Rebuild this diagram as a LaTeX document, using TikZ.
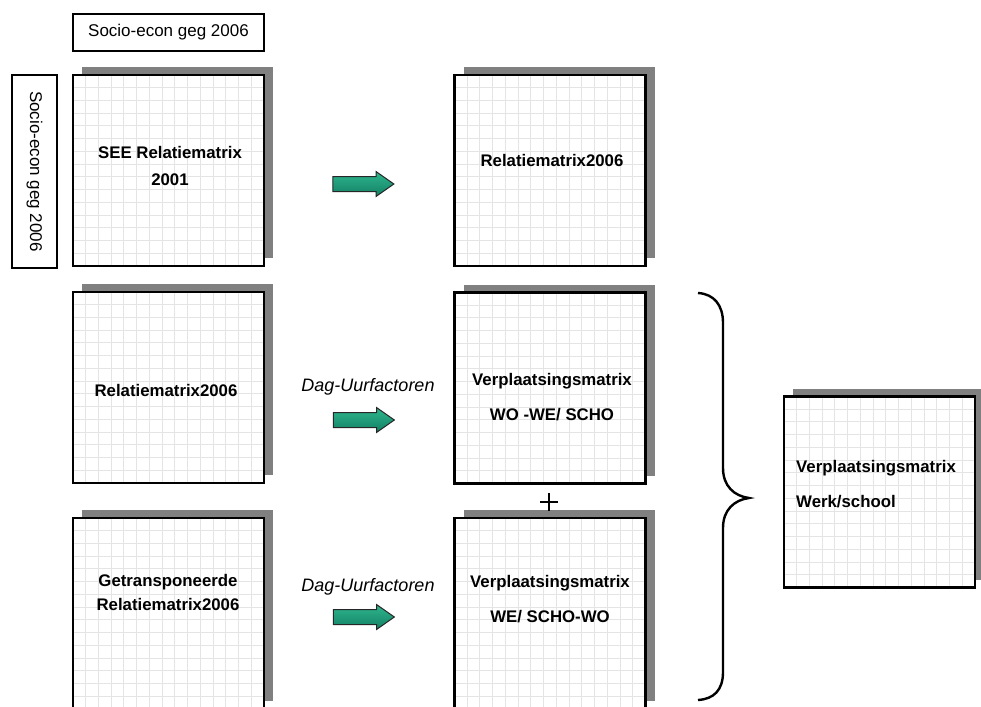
\documentclass[tikz,border=0pt]{standalone}
\usepackage{fontspec}
\setmainfont{Liberation Sans}
\usetikzlibrary{calc,shapes.arrows,shadows}
\definecolor{shadowgray}{HTML}{808080}
\definecolor{gridgray}{HTML}{E4E4E4}
\definecolor{arrowtop}{HTML}{2FB68E}
\definecolor{arrowbot}{HTML}{128064}

\tikzset{
  gridline/.style={draw=gridgray, line width=1pt},
  matbox/.style={draw=black, line width=2.8pt, fill=white,
    minimum width=191pt, minimum height=191pt, inner sep=0pt, outer sep=0pt,
    general shadow={fill=shadowgray, shadow xshift=9pt, shadow yshift=8pt},
    path picture={
      \foreach \k in {1,...,14}{
        \draw[gridline]
          ($(path picture bounding box.north west)!\k/15!(path picture bounding box.north east)$) --
          ($(path picture bounding box.south west)!\k/15!(path picture bounding box.south east)$);
        \draw[gridline]
          ($(path picture bounding box.north west)!\k/15!(path picture bounding box.south west)$) --
          ($(path picture bounding box.north east)!\k/15!(path picture bounding box.south east)$);
      }
    }},
  labelbox/.style={draw=black, line width=2pt, fill=white, inner sep=0pt,
    font=\fontsize{17}{18}\selectfont},
  mtext/.style={align=center, inner sep=0pt},
  factortext/.style={inner sep=0pt, font=\fontsize{18}{20}\selectfont\itshape},
  blockarrow/.style={single arrow, draw=black!85, line width=1pt,
    top color=arrowtop, bottom color=arrowbot,
    minimum height=61pt, inner xsep=0pt, inner ysep=7pt,
    single arrow head extend=5pt, single arrow tip angle=70},
  bracket/.style={draw=black, line width=2.4pt}
}

\begin{document}
\begin{tikzpicture}[x=1pt, y=-1pt]
\useasboundingbox (0,0) rectangle (981,706);
\clip (0,0) rectangle (981,706);

% data labels
\node[labelbox, minimum width=191pt, minimum height=37pt] (toplabel) at (168.5,32.5) {Socio-econ geg 2006};
\node[labelbox, rotate=-90, minimum width=193pt, minimum height=45pt] (sidelabel) at (34.5,171.5) {Socio-econ geg 2006};

% matrices
\node[matbox] (A) at (168.5,170.5) {};
\node[matbox] (B) at (550,170.5) {};
\node[matbox] (C) at (168.5,387.5) {};
\node[matbox] (D) at (550,388) {};
\node[matbox] (E) at (168.5,613.5) {};
\node[matbox] (F) at (550,613.5) {};
\node[matbox] (G) at (879.5,492) {};

% matrix captions
\node[mtext, font=\fontsize{16.8}{27}\selectfont\bfseries] (Atext) at (170,165.5) {SEE Relatiematrix\\2001};
\node[mtext, font=\fontsize{16.8}{20}\selectfont\bfseries] (Btext) at (552,160) {Relatiematrix2006};
\node[mtext, font=\fontsize{16.8}{20}\selectfont\bfseries] (Ctext) at (166,390) {Relatiematrix2006};
\node[mtext, font=\fontsize{16.8}{35}\selectfont\bfseries] (Dtext) at (552,397.5) {Verplaatsingsmatrix\\WO -WE/ SCHO};
\node[mtext, font=\fontsize{16.8}{24}\selectfont\bfseries] (Etext) at (168,592) {Getransponeerde\\Relatiematrix2006};
\node[mtext, font=\fontsize{16.8}{35}\selectfont\bfseries] (Ftext) at (550,599.5) {Verplaatsingsmatrix\\WE/ SCHO-WO};
\node[mtext, align=left, anchor=west, font=\fontsize{16.8}{35}\selectfont\bfseries] (Gtext) at (796,484.5) {Verplaatsingsmatrix\\Werk/school};

% transformation arrows
\node[blockarrow] (arr1) at (358,184) {};
\node[blockarrow] (arr2) at (358.5,420) {};
\node[blockarrow] (arr3) at (358.5,617) {};
\node[factortext] (fac2) at (368,387) {Dag-Uurfactoren};
\node[factortext] (fac3) at (368,587) {Dag-Uurfactoren};

% plus between the two trip matrices
\coordinate (plus) at (549,502);
\draw[line width=1.2pt] ($(plus)+(-9,0)$) -- ($(plus)+(9,0)$)
                        ($(plus)+(0,-9)$) -- ($(plus)+(0,9)$);

% curly bracket joining both trip matrices
\draw[bracket] (698,293) .. controls (714,294) and (723,305) .. (723,323)
  -- (723,468) .. controls (723,486) and (734,496) .. (749,498)
  .. controls (734,500) and (723,510) .. (723,528)
  -- (723,672) .. controls (723,690) and (714,699) .. (698,700);
\end{tikzpicture}
\end{document}
